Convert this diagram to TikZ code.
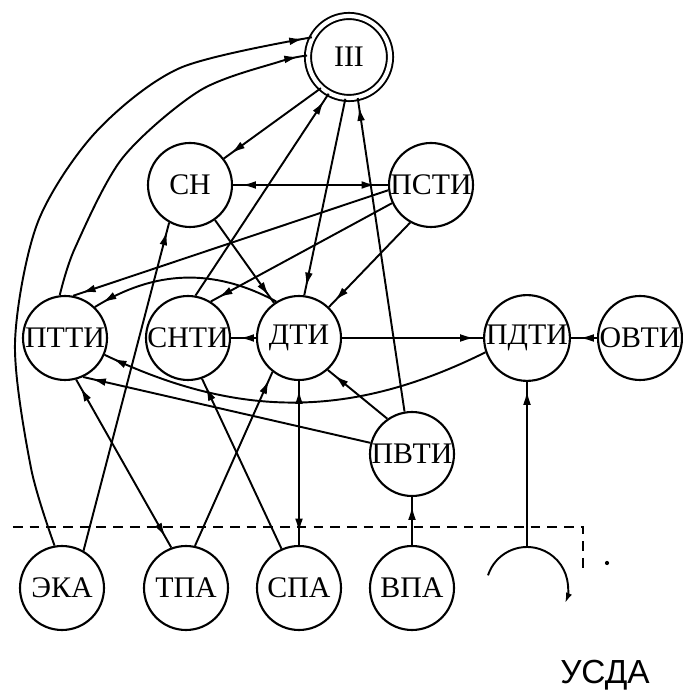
\documentclass[tikz,border=0pt]{standalone}
\usepackage{fontspec}
\setmainfont{Liberation Serif}
\newfontfamily\capsans{Liberation Sans}
\usetikzlibrary{arrows.meta,decorations.markings}
\newcommand{\blkfont}{\fontsize{17}{17}\selectfont}
\tikzset{
  blk/.style={circle,draw,line width=1.2pt,minimum size=1.68cm,inner sep=0pt,font=\blkfont},
  hub/.style={blk,double,line width=1.1pt,double distance=2.4pt,minimum size=1.64cm},
  tip/.style={line width=1.1pt,postaction={decorate},
    decoration={markings,mark=at position -5pt with {\arrow{Latex[length=8pt,width=4.4pt]}}}},
  tips/.style={line width=1.1pt,postaction={decorate},
    decoration={markings,
      mark=at position 7pt with {\arrowreversed{Latex[length=8pt,width=4.4pt]}},
      mark=at position -5pt with {\arrow{Latex[length=8pt,width=4.4pt]}}}},
  border/.style={dashed,dash pattern=on 5.5pt off 4pt,line width=1.1pt}
}

\begin{document}
\begin{tikzpicture}
  \useasboundingbox (0,0) rectangle (13.64,13.86);
  % blocks
  \node[hub] (iii) at (6.98,12.72) {III};
  \node[blk] (ch) at (3.8,10.16) {СН};
  \node[blk] (psti) at (8.62,10.16) {ПСТИ};
  \node[blk] (ptti) at (1.3,7.1) {ПТТИ};
  \node[blk] (snti) at (3.76,7.1) {СНТИ};
  \node[blk] (dti) at (5.98,7.1) {ДТИ};
  \node[blk] (pdti) at (10.54,7.1) {ПДТИ};
  \node[blk] (ovti) at (12.8,7.1) {ОВТИ};
  \node[blk] (pvti) at (8.24,4.78) {ПВТИ};
  % lower row
  \node[blk] (eka) at (1.24,2.1) {ЭКА};
  \node[blk] (tpa) at (3.72,2.1) {ТПА};
  \node[blk] (spa) at (5.98,2.1) {СПА};
  \node[blk] (vpa) at (8.24,2.1) {ВПА};
  \coordinate (usda) at (10.54,2.1);
  \coordinate (usdatop) at (10.54,2.92);
  \node[font=\capsans\fontsize{19}{19}\selectfont,anchor=base] (usdatext) at (12.1,0.2) {УСДА};

  % boundary
  \draw[border] (0.26,3.32) -- (11.66,3.32) -- (11.66,2.42);
  \fill (12.14,2.6) circle (1.2pt);
  \draw[line width=1.1pt,-{Latex[length=6pt,width=3.6pt]}] ([shift={(162:0.82)}]usda) arc[start angle=162,end angle=-22,radius=0.82];

  % long arcs to III
  \draw[tip] plot[smooth] coordinates {(eka.100) (0.62,4.5) (0.3,7.0) (0.75,9.4) (1.9,11.2) (3.6,12.5) (iii.152)};
  \draw[tip] plot[smooth] coordinates {(ptti.97) (1.5,8.9) (2.45,10.7) (4.0,12.05) (5.6,12.63) (iii.178)};

  \draw[tip] (iii.-132) -- (ch.38);
  \draw[tip] (snti.80) -- (iii.-119);
  \draw[tip] (iii.-95) -- (dti.83);
  \draw[tip] (pvti.100) -- (iii.-78);
  \draw[tips] (psti) -- (ch);
  \draw[tip] (psti.187) -- (ptti.79);
  \draw[tip] (psti.205) -- (snti.58);
  \draw[tip] (psti.241) -- (dti.46);
  \draw[tip] (ch) -- (dti);
  \draw[tip] (dti.122) to[bend right=30] (ptti.46);
  \draw[tip] (dti) -- (snti);
  \draw[tip] (dti) -- (pdti);
  \draw[tip] (ovti) -- (pdti);
  \draw[tip] (pdti.199) to[bend left=26] (ptti.-23);
  \draw[tip] (pvti.165) -- (ptti.-65);
  \draw[tips] (tpa.110) -- (ptti.-75);
  \draw[tip] (tpa.78) -- (dti.-128);
  \draw[tip] (spa.114) -- (snti.-71);
  \draw[tips] (spa) -- (dti);
  \draw[tip] (pvti.125) -- (dti.-48);
  \draw[tip] (vpa) -- (pvti);
  \draw[tip] (eka.60) -- (ch.-119);
  \draw[tip] (usdatop) -- (pdti);
\end{tikzpicture}
\end{document}
